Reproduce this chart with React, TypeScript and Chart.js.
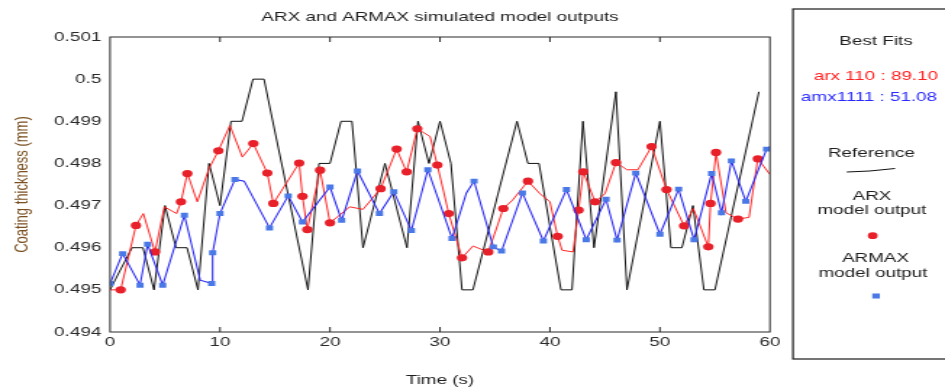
import React, { useEffect, useRef } from 'react';
import { Chart, registerables } from 'chart.js';

Chart.register(...registerables);

// ---------------- data ----------------
const chartTitle = 'ARX and ARMAX simulated model outputs';
const xTitle = 'Time (s)';
const yTitle = 'Coating thickness (mm)';

const xTickValues = [0, 10, 20, 30, 40, 50, 60];
const yTickValues = [0.494, 0.495, 0.496, 0.497, 0.498, 0.499, 0.5, 0.501];
const yTickLabels = ['0.494', '0.495', '0.496', '0.497', '0.498', '0.499', '0.5', '0.501'];

// Reference (measured) signal
const refT = [0, 2, 3, 4, 5, 6, 7, 8, 9, 10, 11, 12, 13, 14, 18, 19, 20, 21, 22, 23, 25, 27, 28, 29, 30, 31, 32, 33, 37, 38, 39, 41, 42, 43, 44, 46, 47, 50, 51, 52, 53, 54, 55, 59];
const refV = [0.495, 0.496, 0.496, 0.495, 0.497, 0.496, 0.496, 0.495, 0.498, 0.497, 0.499, 0.499, 0.5, 0.5, 0.495, 0.498, 0.498, 0.499, 0.499, 0.496, 0.498, 0.496, 0.499, 0.498, 0.499, 0.498, 0.495, 0.495, 0.499, 0.498, 0.498, 0.495, 0.495, 0.499, 0.496, 0.4997, 0.495, 0.499, 0.496, 0.496, 0.497, 0.495, 0.495, 0.4997];

// ARX model output (marker flag: 1 = marker drawn)
const arxT = [0, 0.97, 2.36, 3.03, 4.09, 4.94, 6.06, 6.45, 7.03, 7.94, 9, 9.85, 10.9, 12.03, 13.03, 14.3, 14.85, 17.2, 17.5, 17.94, 19.1, 20, 21.8, 23, 24.6, 26.06, 26.97, 27.94, 29.1, 29.76, 30.8, 32, 33, 34.39, 35.76, 36.6, 38, 39.1, 40, 40.7, 41.1, 42.1, 42.6, 43.03, 44.1, 45, 46, 47, 48, 49.24, 50.6, 52.2, 53.03, 54.4, 54.6, 55.1, 56, 57.1, 58.1, 58.9, 60];
const arxV = [0.495, 0.495, 0.49653, 0.49681, 0.4959, 0.49697, 0.49681, 0.49709, 0.49776, 0.49709, 0.49788, 0.4983, 0.4989, 0.49815, 0.49847, 0.49777, 0.49705, 0.49801, 0.49722, 0.49643, 0.49784, 0.49659, 0.49697, 0.49691, 0.4974, 0.49834, 0.4978, 0.49882, 0.49864, 0.49796, 0.49681, 0.49576, 0.49604, 0.4959, 0.49693, 0.49713, 0.49758, 0.49728, 0.49709, 0.49627, 0.49594, 0.4959, 0.49689, 0.4978, 0.49709, 0.49728, 0.49802, 0.49785, 0.49785, 0.4984, 0.49738, 0.49652, 0.49693, 0.49602, 0.49705, 0.49826, 0.49683, 0.49668, 0.49672, 0.49811, 0.49774];
const arxMark = [0, 1, 1, 0, 1, 0, 0, 1, 1, 0, 0, 1, 0, 0, 1, 1, 1, 1, 1, 1, 1, 1, 0, 0, 1, 1, 1, 1, 0, 1, 1, 1, 0, 1, 1, 0, 1, 0, 0, 1, 0, 0, 1, 1, 1, 0, 1, 0, 0, 1, 1, 1, 0, 1, 1, 1, 0, 1, 0, 1, 0];

// ARMAX model output
const amxT = [0, 1.15, 2.73, 3.42, 4.79, 6.76, 8.2, 9.24, 9.33, 10, 11.36, 12.2, 14.5, 16.2, 17.5, 20, 21.06, 22.5, 24.5, 25.8, 27.4, 28.9, 31.1, 32.4, 33.1, 34.85, 35.6, 37.5, 39.4, 41.5, 43.3, 45.1, 46.1, 47.8, 50, 51.7, 53.1, 54.7, 55.6, 56.5, 57.8, 59.7, 60];
const amxV = [0.49515, 0.49586, 0.49511, 0.49608, 0.49511, 0.49677, 0.49523, 0.49515, 0.49588, 0.49681, 0.49762, 0.49758, 0.49647, 0.49723, 0.49661, 0.49744, 0.49665, 0.49782, 0.49681, 0.49733, 0.49641, 0.49785, 0.49622, 0.4973, 0.49758, 0.49602, 0.49592, 0.4973, 0.49616, 0.49738, 0.49619, 0.49715, 0.49618, 0.49777, 0.49632, 0.49739, 0.49619, 0.49776, 0.49683, 0.49806, 0.4971, 0.49834, 0.4984];
const amxMark = [1, 1, 1, 1, 1, 1, 0, 1, 1, 1, 1, 0, 1, 1, 1, 1, 1, 1, 1, 1, 1, 1, 1, 0, 1, 1, 1, 1, 1, 1, 1, 1, 1, 1, 1, 1, 1, 1, 1, 1, 1, 1, 0];

// Legend texts
const legendHeading = 'Best Fits';
const fitArx = 'arx 110 : 89.10';
const fitAmx = 'amx1111 : 51.08';
const legRef = 'Reference';
const legArx = ['ARX', 'model output'];
const legAmx = ['ARMAX', 'model output'];

// ---------------- layout ----------------
const CW = 652; // canvas width before horizontal stretch
const CH = 390;
const SX = 945 / CW;
const FONT = '"Liberation Sans", Arial, sans-serif';

const RED = '#ff1a1a';
const RED_M = '#e8202a';
const BLUE = '#2424f0';
const BLUE_M = '#4a78e6';

const framePlugin = {
  id: 'frameAndLegend',
  afterDraw(chart: any) {
    const { ctx, chartArea, scales } = chart;
    const { left, right, top, bottom } = chartArea;
    ctx.save();
    ctx.strokeStyle = '#2a2a2a';
    ctx.lineWidth = 1;
    ctx.strokeRect(left, top, right - left, bottom - top);
    // inward x ticks (top & bottom)
    ctx.beginPath();
    xTickValues.forEach((v) => {
      const px = scales.x.getPixelForValue(v);
      if (px > left + 1 && px < right - 1) {
        ctx.moveTo(px, bottom);
        ctx.lineTo(px, bottom - 5);
        ctx.moveTo(px, top);
        ctx.lineTo(px, top + 5);
      }
    });
    ctx.stroke();

    // legend box
    ctx.strokeStyle = '#1a1a1a';
    ctx.lineWidth = 1.2;
    ctx.strokeRect(547.1, 9, 200, 350);

    ctx.textAlign = 'center';
    ctx.textBaseline = 'middle';
    ctx.font = `13px ${FONT}`;
    ctx.fillStyle = '#1e1e1e';
    ctx.fillText(legendHeading, 604.4, 41);
    ctx.fillStyle = '#ff2020';
    ctx.fillText(fitArx, 604.3, 76);
    ctx.fillStyle = '#2a2aff';
    ctx.fillText(fitAmx, 599.6, 97);
    ctx.fillStyle = '#1e1e1e';
    ctx.fillText(legRef, 601.2, 153);
    ctx.fillText(legArx[0], 601.6, 196);
    ctx.fillText(legArx[1], 601.5, 210);
    ctx.fillText(legAmx[0], 604, 258.5);
    ctx.fillText(legAmx[1], 602.3, 273.5);

    // reference sample line
    ctx.strokeStyle = '#111';
    ctx.lineWidth = 1;
    ctx.beginPath();
    ctx.moveTo(584.2, 172);
    ctx.lineTo(600, 171);
    ctx.lineTo(617.5, 168.5);
    ctx.stroke();

    // ARX marker
    ctx.fillStyle = RED_M;
    ctx.beginPath();
    ctx.arc(602.1, 235.7, 3.4, 0, Math.PI * 2);
    ctx.fill();

    // ARMAX marker
    ctx.fillStyle = BLUE_M;
    ctx.fillRect(604.4 - 2.6, 296 - 2.5, 5.2, 5);

    ctx.restore();
  },
};

function toPoints(ts: number[], vs: number[]) {
  return ts.map((t, i) => ({ x: t, y: vs[i] }));
}

export default function App() {
  const canvasRef = useRef<HTMLCanvasElement | null>(null);

  useEffect(() => {
    const canvas = canvasRef.current;
    if (!canvas) return;
    const tickFont = { family: FONT, size: 13, weight: 'normal' as const };

    const chart = new Chart(canvas, {
      type: 'line',
      data: {
        datasets: [
          {
            label: 'ARMAX model output',
            data: toPoints(amxT, amxV),
            borderColor: BLUE,
            borderWidth: 1.05,
            pointStyle: 'rect',
            pointRadius: amxMark.map((m) => (m ? 3.5 : 0)),
            pointBackgroundColor: BLUE_M,
            pointBorderColor: BLUE_M,
            pointBorderWidth: 0,
            tension: 0,
            order: 0,
          },
          {
            label: 'ARX model output',
            data: toPoints(arxT, arxV),
            borderColor: RED,
            borderWidth: 0.95,
            pointStyle: 'circle',
            pointRadius: arxMark.map((m) => (m ? 3.6 : 0)),
            pointBackgroundColor: RED_M,
            pointBorderColor: RED_M,
            pointBorderWidth: 0,
            tension: 0,
            order: 1,
          },
          {
            label: 'Reference',
            data: toPoints(refT, refV),
            borderColor: '#111111',
            borderWidth: 1.0,
            pointRadius: 0,
            tension: 0,
            order: 2,
          },
        ],
      },
      options: {
        animation: false,
        responsive: false,
        devicePixelRatio: 1,
        layout: { padding: { left: 0, right: CW - 531.2, top: 0, bottom: 0 } },
        plugins: {
          legend: { display: false },
          tooltip: { enabled: false },
          title: {
            display: true,
            fullSize: false,
            text: chartTitle,
            color: '#1e1e1e',
            font: { family: FONT, size: 13, weight: 'normal' },
            padding: { top: 10, bottom: 11.4 },
          },
        },
        scales: {
          x: {
            type: 'linear',
            min: 0,
            max: 60,
            afterBuildTicks: (s: any) => {
              s.ticks = xTickValues.map((v) => ({ value: v }));
            },
            afterFit: (s: any) => {
              s.height = CH - 332;
            },
            grid: { display: false, drawTicks: false },
            border: { display: false },
            ticks: {
              padding: 3,
              color: '#2a2a2a',
              font: tickFont,
              maxRotation: 0,
              autoSkip: false,
              callback: (v: any) => String(v),
            },
            title: {
              display: true,
              text: xTitle,
              color: '#1e1e1e',
              font: { family: FONT, size: 13, weight: 'normal' },
              padding: { top: 0, bottom: 2.2 },
            },
          },
          y: {
            type: 'linear',
            min: 0.494,
            max: 0.501,
            afterBuildTicks: (s: any) => {
              s.ticks = yTickValues.map((v) => ({ value: v }));
            },
            afterFit: (s: any) => {
              s.width = 75.9;
            },
            grid: { display: false, drawTicks: false },
            border: { display: false },
            ticks: {
              padding: 6,
              color: '#2a2a2a',
              font: tickFont,
              autoSkip: false,
              callback: (v: any) => {
                const i = yTickValues.findIndex((t) => Math.abs(t - v) < 1e-7);
                return i >= 0 ? yTickLabels[i] : '';
              },
            },
            title: {
              display: true,
              text: yTitle,
              color: '#7a5020',
              font: { family: FONT, size: 13, weight: 'normal' },
              padding: { top: 7.2, bottom: 0 },
            },
          },
        },
      },
      plugins: [framePlugin],
    } as any);

    return () => {
      chart.destroy();
    };
  }, []);

  return (
    <div
      style={{
        position: 'fixed',
        left: 0,
        top: 0,
        width: 945,
        height: 390,
        overflow: 'hidden',
        background: '#ffffff',
      }}
    >
      <canvas
        ref={canvasRef}
        width={CW}
        height={CH}
        style={{ display: 'block', transform: `scaleX(${SX})`, transformOrigin: '0 0' }}
      />
    </div>
  );
}
